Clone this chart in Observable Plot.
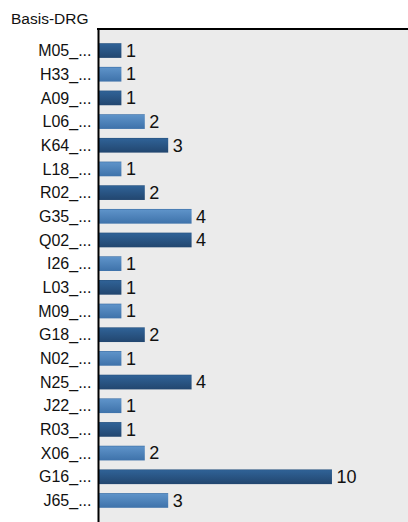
<!DOCTYPE html>
<html>
<head>
<meta charset="utf-8">
<script src="https://cdn.jsdelivr.net/npm/d3@7"></script>
<script src="https://cdn.jsdelivr.net/npm/@observablehq/plot@0.6"></script>
<style>
  html, body { margin: 0; padding: 0; background: #fff; }
  #wrap { width: 408px; height: 522px; overflow: hidden; font-family: "Liberation Sans", Arial, sans-serif; }
  #title { position: relative; height: 27px; }
  #title span { position: absolute; left: 11px; top: 9.5px; font-size: 15.5px; color: #111; white-space: nowrap; }
  svg { display: block; }
  #chart svg, #chart svg text { font-family: "Liberation Sans", Arial, sans-serif !important; }
</style>
</head>
<body>
<div id="wrap">
  <div id="title"><span>Basis-DRG</span></div>
  <div id="chart"></div>
</div>
<script>
const titleText = "Basis-DRG";
const categories = ["M05_...", "H33_...", "A09_...", "L06_...", "K64_...", "L18_...", "R02_...", "G35_...", "Q02_...", "I26_...", "L03_...", "M09_...", "G18_...", "N02_...", "N25_...", "J22_...", "R03_...", "X06_...", "G16_...", "J65_..."];
const values = [1, 1, 1, 2, 3, 1, 2, 4, 4, 1, 1, 1, 2, 1, 4, 1, 1, 2, 10, 3];

const data = categories.map((c, i) => ({cat: c, value: values[i], idx: i}));

function defsMark() {
  const ns = "http://www.w3.org/2000/svg";
  const defs = document.createElementNS(ns, "defs");
  const grads = {
    gDark: [[0, "#27527f"], [0.08, "#2f6195"], [1, "#22466f"]],
    gLight: [[0, "#3a6da4"], [0.08, "#5d92c8"], [1, "#3e72aa"]]
  };
  for (const [id, stops] of Object.entries(grads)) {
    const g = document.createElementNS(ns, "linearGradient");
    g.setAttribute("id", id);
    g.setAttribute("x1", "0"); g.setAttribute("y1", "0");
    g.setAttribute("x2", "0"); g.setAttribute("y2", "1");
    for (const [o, c] of stops) {
      const s = document.createElementNS(ns, "stop");
      s.setAttribute("offset", o);
      s.setAttribute("stop-color", c);
      g.appendChild(s);
    }
    defs.appendChild(g);
  }
  return defs;
}

function topLine(index, scales, values, dims) {
  const ns = "http://www.w3.org/2000/svg";
  const l = document.createElementNS(ns, "line");
  l.setAttribute("x1", dims.marginLeft - 1);
  l.setAttribute("x2", dims.width);
  l.setAttribute("y1", dims.marginTop);
  l.setAttribute("y2", dims.marginTop);
  l.setAttribute("stroke", "#000");
  l.setAttribute("stroke-width", 2);
  return l;
}

const chart = Plot.plot({
  width: 408,
  height: 495,
  marginTop: 2,
  marginBottom: 0,
  marginLeft: 98,
  marginRight: 0,
  style: {fontFamily: "'Liberation Sans', Arial, sans-serif", background: "transparent"},
  x: {domain: [0, 13.25], axis: null},
  y: {domain: categories, paddingInner: 0.38, paddingOuter: 0.6, round: false, label: null},
  marks: [
    defsMark,
    Plot.frame({fill: "#ebebeb", stroke: null}),
    Plot.barX(data, {filter: d => d.idx % 2 === 0, x: "value", y: "cat", fill: "url(#gDark)"}),
    Plot.barX(data, {filter: d => d.idx % 2 === 1, x: "value", y: "cat", fill: "url(#gLight)"}),
    Plot.text(data, {x: "value", y: "cat", text: d => String(d.value), textAnchor: "start", dx: 4, fontSize: 18, fill: "#111"}),
    Plot.axisY({tickSize: 0, tickPadding: 7, fontSize: 16, color: "#111", label: null}),
    Plot.ruleX([0], {stroke: "#000", strokeWidth: 2}),
    topLine
  ]
});
document.getElementById("chart").appendChild(chart);
</script>
</body>
</html>
